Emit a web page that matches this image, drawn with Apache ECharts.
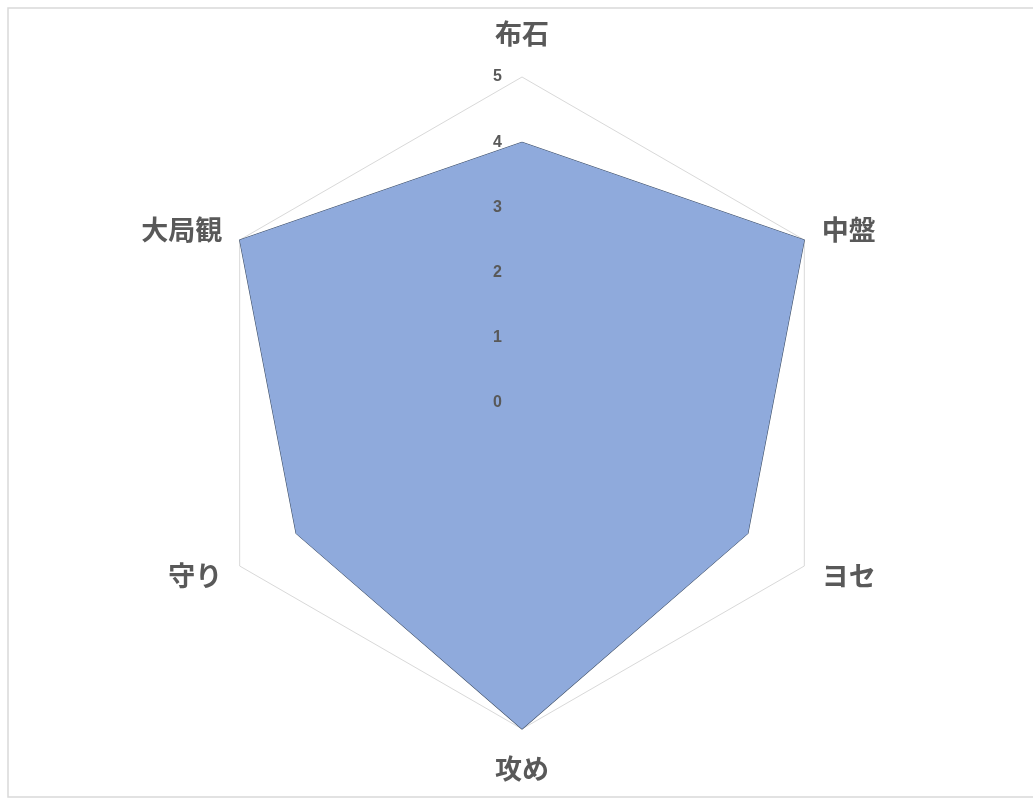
<!DOCTYPE html>
<html>
<head>
<meta charset="utf-8">
<script src="https://cdn.jsdelivr.net/npm/echarts@6/dist/echarts.min.js"></script>
<style>
html,body{margin:0;padding:0;background:#fff;}
#main{width:1033px;height:801px;}
</style>
</head>
<body>
<div id="main"></div>
<script>
// Categories listed clockwise from the top
const categories = ['布石', '中盤', 'ヨセ', '攻め', '守り', '大局観'];
const values = [4, 5, 4, 5, 4, 5];
const maxValue = 5;
const tickCount = 5;

// ECharts places radar indicators counter-clockwise; reorder to get clockwise
const order = [0, 5, 4, 3, 2, 1];
const orderedNames = order.map(i => categories[i]);
const orderedValues = order.map(i => values[i]);

const chart = echarts.init(document.getElementById('main'));

const baseIndicator = orderedNames.map(name => ({ name: name, min: 0, max: maxValue }));
const labelIndicator = orderedNames.map((name, i) => {
  const o = { name: name, min: 0, max: maxValue };
  if (i !== 0) o.axisLabel = { show: false };
  return o;
});

const common = {
  center: [522, 403],
  radius: 326,
  startAngle: 90,
  shape: 'polygon',
  splitNumber: tickCount
};

chart.setOption({
  backgroundColor: '#ffffff',
  animation: false,
  graphic: [{
    type: 'rect',
    shape: { x: 8, y: 8, width: 1040, height: 789 },
    style: { fill: 'none', stroke: '#d9d9d9', lineWidth: 1.5 },
    z: 0
  }],
  radar: [
    Object.assign({}, common, {
      indicator: baseIndicator,
      axisName: {
        color: '#595959',
        fontSize: 27,
        fontWeight: 'bold',
        fontFamily: '"Noto Sans CJK JP", sans-serif',
        padding: [6, 0, 10, 0]
      },
      nameGap: 20,
      splitLine: { lineStyle: { color: '#d9d9d9', width: 1 } },
      splitArea: { show: false },
      axisLine: { show: false },
      axisTick: { show: false },
      axisLabel: { show: false }
    }),
    Object.assign({}, common, {
      z: 5,
      indicator: labelIndicator,
      axisName: { show: false },
      splitLine: { show: false },
      splitArea: { show: false },
      axisLine: { show: false },
      axisTick: { show: false },
      axisLabel: {
        show: true,
        color: '#595959',
        fontSize: 16,
        fontWeight: 'bold',
        fontFamily: '"Liberation Sans", sans-serif',
        margin: 20,
        showMinLabel: true,
        showMaxLabel: true
      }
    })
  ],
  series: [{
    type: 'radar',
    radarIndex: 0,
    symbol: 'none',
    data: [{
      value: orderedValues,
      lineStyle: { color: '#3F4F66', width: 1.2 },
      areaStyle: { color: '#8FAADC', opacity: 1 }
    }]
  }]
});
</script>
</body>
</html>
